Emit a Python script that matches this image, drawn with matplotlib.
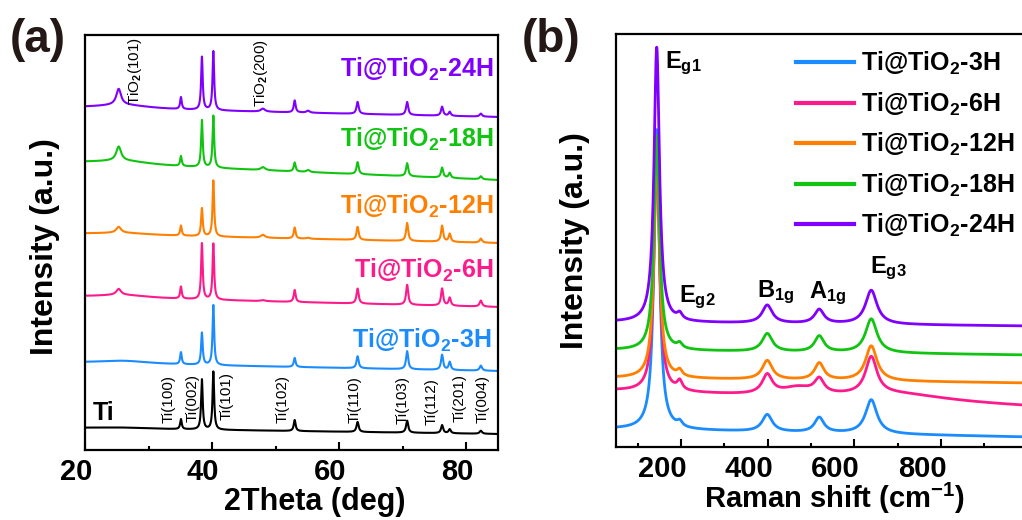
import numpy as np
import matplotlib
matplotlib.use("Agg")
import matplotlib.pyplot as plt
from matplotlib.transforms import ScaledTranslation

plt.rcParams['font.family'] = ['Liberation Sans', 'DejaVu Sans']
plt.rcParams['font.weight'] = 'bold'
plt.rcParams['mathtext.fontset'] = 'custom'
plt.rcParams['mathtext.rm'] = 'Liberation Sans'
plt.rcParams['mathtext.bf'] = 'Liberation Sans:bold'
plt.rcParams['mathtext.it'] = 'Liberation Sans:italic'

# ---------------- XRD data (peak parameters, stacked with offsets) ----------------
xrd_peak_pos = [25.3, 35.1, 38.4, 40.2, 48.0, 53.0, 55.1, 62.9, 70.7, 76.2, 77.4, 82.3]
xrd_peak_fwhm = [0.9, 0.3, 0.3, 0.3, 0.8, 0.35, 0.6, 0.4, 0.4, 0.4, 0.4, 0.45]
xrd_names = ['Ti', 'Ti@TiO2-3H', 'Ti@TiO2-6H', 'Ti@TiO2-12H', 'Ti@TiO2-18H', 'Ti@TiO2-24H']
xrd_heights = [
    [0, 10, 50, 58, 0, 11, 0, 10, 12, 8, 4, 3],
    [0, 12, 32, 60, 0, 9, 0, 12, 18, 15, 8, 5],
    [6, 12, 56, 56, 1, 12, 0, 15, 20, 17, 8, 6],
    [6, 10, 28, 56, 3, 11, 1, 13, 18, 16, 8, 4],
    [14, 10, 47, 52, 3, 9, 2, 12, 13, 10, 5, 3],
    [16, 12, 53, 59, 3, 12, 2, 12, 13, 9, 4, 3],
]
xrd_hump = [1, 3, 3, 2, 4, 4]          # broad amorphous hump near 26 deg
xrd_base_left = [22, 87, 153, 216, 287, 342]
xrd_base_right = [16, 79, 143, 207, 270, 333]

# ---------------- Raman data ----------------
raman_peak_pos = [144, 197, 399, 519, 639, 470, 700]
raman_peak_fwhm = [15, 14, 28, 26, 32, 90, 300]
raman_names = ['Ti@TiO2-3H', 'Ti@TiO2-6H', 'Ti@TiO2-12H', 'Ti@TiO2-18H', 'Ti@TiO2-24H']
raman_heights = [
    [300, 5, 17, 15, 34, 0, 0],
    [235, 9, 19, 14, 37, 8, 8],
    [228, 6, 19, 17, 35, 0, 0],
    [215, 5, 18, 16, 34, 0, 0],
    [275, 6, 18, 14, 34, 0, 0],
]
raman_base_left = [18, 56, 69, 97, 125]
raman_base_right = [10, 40, 64, 92, 121]

colors = {
    'Ti': '#000000',
    'Ti@TiO2-3H': '#1a8cff',
    'Ti@TiO2-6H': '#ff1a8c',
    'Ti@TiO2-12H': '#ff8000',
    'Ti@TiO2-18H': '#11c411',
    'Ti@TiO2-24H': '#8000ff',
}


def mathlabel(name):
    return name.replace('TiO2', r'TiO$_\mathbf{2}$')


def profile(x, base_l, base_r, pos, fwhm, heights, extra=None):
    y = base_l + (base_r - base_l) * (x - x[0]) / (x[-1] - x[0])
    for c, w, h in zip(pos, fwhm, heights):
        y = y + h / (1.0 + ((x - c) / (w / 2.0)) ** 2)
    if extra is not None:
        y = y + extra
    return y


fig = plt.figure(figsize=(10.22, 5.2), dpi=100)
W, H = 1022, 520

# ---------------- panel (a) ----------------
axa = fig.add_axes([85 / W, (H - 450) / H, 413 / W, 415 / H])
tt = np.arange(20, 85.001, 0.02)
for i, name in enumerate(xrd_names):
    hump = xrd_hump[i] / (1.0 + ((tt - 26.0) / 5.0) ** 2)
    y = profile(tt, xrd_base_left[i], xrd_base_right[i], xrd_peak_pos,
                xrd_peak_fwhm, xrd_heights[i], hump)
    axa.plot(tt, y, color=colors[name], lw=1.5)

axa.set_xlim(20, 85)
axa.set_ylim(0, 415)
axa.set_yticks([])
axa.set_xticks([20, 40, 60, 80])
axa.set_xticks([30, 50, 70], minor=True)
axa.tick_params(axis='x', which='major', direction='in', length=6, width=1.5,
                labelsize=21, pad=6)
axa.tick_params(axis='x', which='minor', direction='in', length=3, width=1.5)
for lab in axa.get_xticklabels():
    lab.set_fontweight('bold')
    lab.set_transform(lab.get_transform() + ScaledTranslation(-0.09, 0, fig.dpi_scale_trans))
for sp in axa.spines.values():
    sp.set_linewidth(1.6)

axa.set_xlabel('2Theta (deg)', fontsize=22, fontweight='bold')
axa.xaxis.set_label_coords(0.557, -0.088)
axa.set_ylabel('Intensity (a.u.)', fontsize=23, fontweight='bold')
axa.yaxis.set_label_coords(-0.06, 0.49)

# curve labels
label_pos_a = {
    'Ti@TiO2-24H': (84.2, 450 - 77),
    'Ti@TiO2-18H': (84.3, 450 - 147),
    'Ti@TiO2-12H': (84.3, 450 - 214),
    'Ti@TiO2-6H': (84.3, 450 - 278),
    'Ti@TiO2-3H': (84.0, 450 - 348),
}
for name, (xx, yy) in label_pos_a.items():
    axa.text(xx, yy, mathlabel(name), color=colors[name], fontsize=18,
             fontweight='bold', ha='right', va='baseline')
axa.text(21.2, 450 - 420, 'Ti', color='black', fontsize=18, fontweight='bold',
         ha='left', va='baseline')

# reflection labels
ti_refl = ['Ti(100)', 'Ti(002)', 'Ti(101)', 'Ti(102)', 'Ti(110)', 'Ti(103)',
           'Ti(112)', 'Ti(201)', 'Ti(004)']
ti_refl_x = [33.1, 36.9, 42.35, 51.1, 62.5, 70.0, 74.5, 79.0, 82.6]
ti_refl_y = [27, 28, 30, 27, 27, 26, 25, 28, 27]
for s, xx, yy in zip(ti_refl, ti_refl_x, ti_refl_y):
    axa.text(xx, yy, s, rotation=90, fontsize=11, fontweight='normal',
             ha='center', va='bottom')
tio2_refl = [r'TiO$_2$(101)', r'TiO$_2$(200)']
tio2_refl_x = [27.8, 47.7]
tio2_refl_y = [345, 343]
for s, xx, yy in zip(tio2_refl, tio2_refl_x, tio2_refl_y):
    axa.text(xx, yy, s, rotation=90, fontsize=11, fontweight='normal',
             ha='center', va='bottom')

fig.text(10 / W, 1 - 52 / H, '(a)', fontsize=33, fontweight='bold', color='#231815',
         ha='left', va='baseline')

# ---------------- panel (b) ----------------
axb = fig.add_axes([616 / W, (H - 447) / H, 411.7 / W, 413 / H])
rs = np.arange(50, 1000.01, 0.5)
lines = []
for i, name in enumerate(raman_names):
    y = profile(rs, raman_base_left[i], raman_base_right[i], raman_peak_pos,
                raman_peak_fwhm, raman_heights[i])
    ln, = axb.plot(rs, y, color=colors[name], lw=2.0, label=mathlabel(name))
    lines.append(ln)

axb.set_xlim(50, 1000)
axb.set_ylim(0, 413)
axb.set_yticks([])
axb.set_xticks([200, 400, 600, 800])
axb.set_xticks([100, 300, 500, 700, 900], minor=True)
axb.tick_params(axis='x', which='major', direction='in', length=6, width=1.5,
                labelsize=21, pad=6)
axb.tick_params(axis='x', which='minor', direction='in', length=3, width=1.5)
for lab in axb.get_xticklabels():
    lab.set_fontweight('bold')
    lab.set_transform(lab.get_transform() + ScaledTranslation(-0.19, 0, fig.dpi_scale_trans))
for sp in axb.spines.values():
    sp.set_linewidth(1.6)

axb.set_xlabel(r'Raman shift (cm$^\mathbf{-1}$)', fontsize=21, fontweight='bold')
axb.xaxis.set_label_coords(0.532, -0.082)
axb.set_ylabel('Intensity (a.u.)', fontsize=23, fontweight='bold')
axb.yaxis.set_label_coords(-0.063, 0.50)

leg = axb.legend(handles=lines, loc='upper left', bbox_to_anchor=(796 / W, 1 - 50 / H),
                 bbox_transform=fig.transFigure, frameon=False, fontsize=18,
                 handlelength=2.3, handletextpad=0.3, labelspacing=0.53,
                 borderaxespad=0, borderpad=0)
for t in leg.get_texts():
    t.set_fontweight('bold')
for lh in leg.get_lines():
    lh.set_linewidth(3)

mode_labels = [r'E$_\mathbf{g1}$', r'E$_\mathbf{g2}$', r'B$_\mathbf{1g}$',
               r'A$_\mathbf{1g}$', r'E$_\mathbf{g3}$']
mode_x = [162, 195, 375, 495, 635]
mode_y = [379, 145, 150, 149, 174]
for s, xx, yy in zip(mode_labels, mode_x, mode_y):
    axb.text(xx, yy, s, fontsize=17, fontweight='bold', ha='left', va='baseline')

fig.text(522 / W, 1 - 52 / H, '(b)', fontsize=33, fontweight='bold', color='#231815',
         ha='left', va='baseline')

fig.savefig('out.png', dpi=100)
